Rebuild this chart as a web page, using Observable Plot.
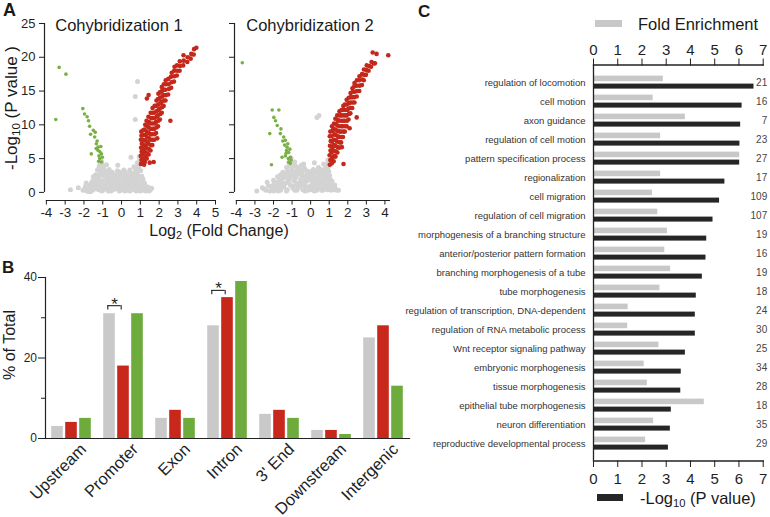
<!DOCTYPE html>
<html><head><meta charset="utf-8">
<script src="https://cdn.jsdelivr.net/npm/d3@7"></script>
<script src="https://cdn.jsdelivr.net/npm/@observablehq/plot@0.6"></script>
<style>
body{margin:0;background:#fff;}
#fig{position:relative;width:770px;height:517px;overflow:hidden;font-family:"Liberation Sans",Arial,sans-serif;color:#1a1a1a;background:#fff;}
.abs{position:absolute;white-space:nowrap;line-height:1;}
.panel{position:absolute;}
.panel svg{overflow:visible;}
sub{font-size:68%;vertical-align:-0.3em;line-height:0;}
</style></head><body><div id="fig"></div>
<script>
// ---------- Panel A: volcano plots ----------
const volcanoYTicks = [0, 5, 10, 15, 20, 25];
const volcanoXTicks1 = [-4, -3, -2, -1, 0, 1, 2, 3, 4, 5];
const volcanoXTicks2 = [-4, -3, -2, -1, 0, 1, 2, 3, 4];

const gray1 = [[-2.72,0.4],[-2.3,0.7],[-2.05,0.3],[-1.92,0.9],[-1.85,0.2],[-1.7,0.6],[-1.62,1.3],[-1.55,0.3],[-1.48,1.9],[-1.42,0.8],[-1.38,2.6],[-1.3,1.4],[-1.28,3.3],[-1.22,0.4],[-1.2,2.1],[-1.17,4.0],[-1.12,1.0],[-1.1,2.8],[-1.08,4.7],[-1.05,3.5],[-1.0,1.7],[-0.98,0.3],[-0.95,2.4],[-0.9,3.1],[-0.86,1.1],[-0.8,4.1],[-0.78,1.9],[-0.74,0.5],[-0.7,2.7],[-0.66,3.4],[-0.62,1.4],[-0.56,0.2],[-0.54,2.2],[-0.5,3.0],[-0.45,1.0],[-0.42,1.8],[-0.36,2.6],[-0.33,0.5],[-0.28,1.4],[-0.22,3.2],[-0.2,2.1],[-0.16,0.9],[-0.1,1.7],[-0.06,0.3],[0.0,2.5],[0.04,1.2],[0.1,0.6],[0.14,2.0],[0.2,3.0],[0.24,1.5],[0.3,0.3],[0.34,2.4],[0.4,1.0],[0.44,3.3],[0.5,1.8],[0.54,0.5],[0.6,2.7],[0.62,1.3],[0.66,3.8],[0.7,2.2],[0.74,0.8],[0.78,3.1],[0.8,1.6],[0.84,4.4],[0.88,2.5],[0.9,0.4],[0.93,3.6],[0.96,1.2],[0.98,4.9],[1.0,2.0],[1.05,0.7],[1.1,1.5],[1.18,0.3],[1.25,1.0],[1.35,0.5],[1.45,0.2],[1.6,0.6],[-1.95,0.5],[-1.75,0.15],[-1.6,0.8],[-1.45,0.5],[-1.35,1.1],[-1.15,0.7],[-0.92,0.8],[-0.7,0.2],[-0.6,0.9],[-0.48,0.4],[-0.38,1.3],[-0.25,0.6],[-0.12,0.2],[0.02,0.8],[0.18,0.2],[0.28,1.1],[0.45,0.2],[0.56,1.0],[0.7,0.4],[0.85,1.1],[1.0,0.2],[1.15,0.9],[1.3,0.2],[-1.25,1.7],[-0.88,1.5],[-0.6,1.9],[0.5,2.4],[0.72,1.8],[1.05,1.1],[-1.4,1.6],[-1.02,2.7],[-0.82,2.4],[-0.3,2.4],[0.1,2.6],[0.36,1.7],[0.92,2.0],[0.85,16.4],[0.73,14.2],[0.73,10.8],[0.5,5.2],[-0.2,4.0],[-1.88,1.4],[-1.78,0.9],[-1.66,0.1],[-1.52,1.2],[-1.33,0.6],[-1.18,1.3],[-1.06,0.2],[-0.96,1.3],[-0.84,0.6],[-0.76,1.4],[-0.64,0.6],[-0.52,1.3],[-0.4,0.8],[-0.3,1.8],[-0.18,1.3],[-0.04,1.5],[0.08,1.0],[0.16,1.6],[0.26,0.7],[0.36,0.4],[0.42,1.4],[0.52,1.2],[0.62,0.8],[0.78,0.2],[0.82,0.9],[0.95,0.7],[1.12,0.5],[1.22,1.4],[1.4,0.8],[1.52,0.3],[-1.5,2.3],[-1.32,2.0],[-1.24,2.5],[-1.14,3.1],[-1.2,3.7],[-1.12,4.3],[-1.0,3.9],[-0.94,3.5],[-0.86,2.9],[-0.72,3.1],[-0.64,2.3],[-0.46,2.5],[-0.4,2.2],[-0.12,2.6],[0.06,2.2],[0.26,2.5],[0.3,1.9],[0.56,2.1],[0.68,2.9],[0.74,3.5],[0.82,2.8],[0.88,3.9],[0.9,3.2],[0.96,4.3],[1.02,3.2],[1.08,2.4],[1.14,2.0],[-1.05,4.4],[0.94,5.3],[-1.56,1.6],[-0.08,3.0],[0.12,3.3],[-0.56,2.8],[0.45,2.9]];
const green1 = [[-3.32,18.5],[-2.96,17.5],[-3.5,10.8],[-2.06,12.4],[-1.97,11.6],[-1.83,11.2],[-1.76,10.6],[-1.7,9.8],[-1.4,8.9],[-1.43,8.2],[-1.34,7.2],[-1.25,6.7],[-1.61,5.7],[-1.07,5.7],[-1.16,5.0],[-1.07,4.5],[-1.25,6.2],[-1.2,5.4],[-1.3,7.6],[-1.15,6.0],[-1.1,6.8],[-1.35,6.5],[-1.02,5.2],[-1.22,4.6],[-1.5,9.2],[-1.65,8.6]];
const red1 = [[1.03,4.2],[1.06,4.8],[1.02,5.4],[1.07,6.0],[1.04,6.6],[1.08,7.2],[1.03,7.8],[1.06,8.4],[1.05,9.0],[1.14,4.3],[1.16,5.0],[1.13,5.7],[1.17,6.4],[1.15,7.1],[1.12,7.8],[1.18,8.5],[1.15,9.2],[1.24,4.5],[1.27,5.3],[1.23,6.1],[1.26,6.9],[1.25,7.7],[1.28,8.5],[1.22,9.3],[1.26,10.0],[1.34,5.0],[1.36,5.8],[1.33,6.6],[1.37,7.4],[1.35,8.2],[1.34,9.0],[1.37,9.8],[1.33,10.6],[1.44,5.6],[1.46,6.4],[1.43,7.2],[1.47,8.0],[1.45,8.8],[1.44,9.6],[1.46,10.4],[1.43,11.2],[1.54,6.2],[1.57,7.0],[1.53,7.8],[1.56,8.6],[1.55,9.4],[1.53,10.2],[1.57,11.0],[1.55,11.8],[1.64,7.0],[1.66,7.8],[1.63,8.6],[1.67,9.4],[1.65,10.2],[1.64,11.0],[1.66,11.8],[1.65,12.5],[1.74,7.8],[1.76,8.6],[1.73,9.4],[1.77,10.2],[1.75,11.0],[1.74,11.8],[1.76,12.8],[1.84,8.8],[1.86,9.6],[1.83,10.4],[1.87,11.2],[1.85,12.0],[1.84,12.8],[1.86,13.6],[1.94,9.8],[1.96,10.6],[1.93,11.4],[1.97,12.2],[1.95,13.0],[1.94,13.8],[1.96,14.6],[2.04,10.8],[2.06,11.6],[2.03,12.4],[2.07,13.2],[2.05,14.0],[2.04,14.8],[2.14,11.8],[2.16,12.6],[2.13,13.4],[2.17,14.2],[2.15,15.0],[2.14,15.6],[2.24,12.8],[2.26,13.6],[2.23,14.4],[2.27,15.2],[2.25,16.0],[2.34,13.6],[2.36,14.4],[2.33,15.2],[2.37,16.0],[2.35,16.6],[2.48,14.5],[2.52,15.3],[2.5,16.0],[2.49,16.8],[2.64,15.5],[2.66,16.3],[2.63,17.1],[2.67,17.7],[2.79,16.4],[2.81,17.2],[2.8,18.0],[2.82,18.6],[2.94,17.3],[2.96,18.0],[2.95,18.8],[3.09,18.0],[3.11,18.7],[3.1,19.4],[3.28,18.8],[3.31,19.5],[3.3,20.3],[3.5,19.3],[3.52,20.0],[3.68,19.8],[3.71,20.5],[3.84,20.4],[3.86,21.2],[3.98,21.4],[1.35,13.9],[1.44,14.4],[2.6,10.6],[1.71,4.5],[1.2,4.1],[1.5,4.4],[1.9,8.0]];

const gray2 = [[-2.6,0.7],[-2.34,1.5],[-2.4,0.3],[-2.15,0.9],[-2.0,0.2],[-1.95,1.6],[-1.85,0.6],[-1.78,2.3],[-1.7,1.1],[-1.62,0.3],[-1.55,1.9],[-1.5,3.0],[-1.45,0.8],[-1.4,2.5],[-1.35,1.4],[-1.3,3.7],[-1.26,0.4],[-1.22,2.0],[-1.18,4.4],[-1.14,3.0],[-1.1,1.1],[-1.06,5.1],[-1.02,2.4],[-0.98,3.8],[-0.95,0.6],[-0.9,1.7],[-0.86,4.5],[-0.82,3.1],[-0.78,2.3],[-0.74,0.3],[-0.7,1.3],[-0.66,3.6],[-0.62,2.7],[-0.58,0.9],[-0.54,1.9],[-0.5,4.0],[-0.46,3.0],[-0.42,0.4],[-0.38,2.3],[-0.34,1.3],[-0.3,3.4],[-0.26,0.8],[-0.22,2.6],[-0.18,1.7],[-0.14,0.3],[-0.1,3.1],[-0.06,2.1],[-0.02,1.0],[0.02,2.8],[0.06,0.5],[0.1,1.6],[0.14,3.4],[0.18,2.2],[0.22,0.9],[0.26,2.9],[0.3,1.4],[0.34,0.3],[0.38,2.4],[0.42,3.7],[0.46,1.1],[0.5,2.0],[0.54,0.6],[0.58,3.1],[0.62,1.6],[0.66,2.6],[0.7,4.2],[0.74,0.9],[0.78,3.4],[0.82,1.9],[0.86,2.9],[0.9,0.4],[0.93,4.8],[0.96,3.8],[0.98,1.4],[1.02,2.5],[1.08,0.8],[1.15,1.7],[1.22,0.4],[1.3,1.1],[1.4,0.3],[-2.2,0.2],[-1.9,1.0],[-1.6,0.7],[-1.3,0.2],[-1.2,1.5],[-0.85,0.3],[-0.6,1.4],[-0.3,0.2],[0.0,0.4],[0.2,0.2],[0.4,0.7],[0.65,0.3],[0.85,1.0],[1.1,0.3],[-1.0,0.9],[-0.45,1.6],[0.05,1.9],[0.45,1.5],[-1.6,1.4],[-1.75,0.2],[0.34,11.1],[0.45,11.4],[-0.38,4.2],[0.2,4.4],[-2.9,0.2],[-2.5,0.5],[-2.28,1.0],[-2.05,0.6],[-1.98,1.2],[-1.82,1.4],[-1.68,1.8],[-1.56,0.9],[-1.48,2.2],[-1.42,1.2],[-1.34,2.8],[-1.28,2.2],[-1.24,3.2],[-1.16,2.6],[-1.12,3.9],[-1.08,4.6],[-1.0,3.3],[-0.94,2.8],[-0.9,4.0],[-0.84,2.0],[-0.76,3.8],[-0.72,2.8],[-0.68,0.7],[-0.56,3.3],[-0.52,1.1],[-0.44,2.4],[-0.36,3.7],[-0.3,1.0],[-0.24,1.9],[-0.16,2.9],[-0.08,0.7],[-0.04,2.4],[0.08,2.6],[0.12,1.2],[0.16,0.6],[0.28,2.0],[0.32,3.2],[0.36,0.9],[0.44,2.7],[0.52,1.3],[0.56,3.4],[0.6,0.3],[0.64,2.1],[0.72,1.4],[0.76,2.6],[0.8,3.9],[0.84,0.6],[0.88,2.4],[0.92,1.6],[0.95,4.3],[0.98,3.1],[1.0,0.9],[1.04,2.0],[1.06,1.4],[1.12,1.0],[1.18,0.5],[1.26,0.9],[1.34,0.5],[1.5,0.3],[-2.0,1.8],[-1.62,2.6],[-1.8,0.3],[-1.15,1.9],[-0.8,1.1],[-0.2,0.6],[0.24,1.5]];
const green2 = [[-3.68,19.2],[-2.07,12.2],[-1.71,12.2],[-1.98,11.1],[-1.89,10.6],[-2.2,8.7],[-1.63,8.7],[-1.45,8.2],[-1.36,7.7],[-1.27,6.7],[-1.18,5.9],[-1.36,5.4],[-1.09,5.2],[-1.18,4.5],[-2.11,4.1],[-1.54,5.2],[-1.23,7.2],[-1.3,6.2],[-1.12,6.4],[-1.05,4.8],[-1.4,7.0],[-1.5,7.6],[-1.2,5.0],[-1.1,4.3],[-1.32,5.8],[-1.6,9.4],[-1.8,9.9]];
const red2 = [[1.03,4.1],[1.06,4.8],[1.02,5.5],[1.07,6.2],[1.04,6.9],[1.08,7.6],[1.03,8.3],[1.06,9.0],[1.14,4.3],[1.16,5.1],[1.13,5.9],[1.17,6.7],[1.15,7.5],[1.12,8.3],[1.18,9.1],[1.15,9.8],[1.24,4.6],[1.27,5.4],[1.23,6.2],[1.26,7.0],[1.25,7.8],[1.28,8.6],[1.22,9.4],[1.26,10.2],[1.34,5.3],[1.36,6.1],[1.33,6.9],[1.37,7.7],[1.35,8.5],[1.34,9.3],[1.37,10.1],[1.33,10.9],[1.44,5.9],[1.46,6.7],[1.43,7.5],[1.47,8.3],[1.45,9.1],[1.44,9.9],[1.46,10.7],[1.43,11.4],[1.54,6.6],[1.57,7.4],[1.53,8.2],[1.56,9.0],[1.55,9.8],[1.53,10.6],[1.57,11.4],[1.55,12.0],[1.64,7.4],[1.66,8.2],[1.63,9.0],[1.67,9.8],[1.65,10.6],[1.64,11.4],[1.66,12.2],[1.74,8.2],[1.76,9.0],[1.73,9.8],[1.77,10.6],[1.75,11.4],[1.74,12.2],[1.76,12.8],[1.84,9.0],[1.86,9.8],[1.83,10.6],[1.87,11.4],[1.85,12.2],[1.84,13.0],[1.94,9.8],[1.96,10.6],[1.93,11.4],[1.97,12.2],[1.95,13.0],[1.94,13.7],[2.04,10.8],[2.06,11.6],[2.03,12.4],[2.07,13.2],[2.05,14.0],[2.14,11.7],[2.16,12.5],[2.13,13.3],[2.17,14.1],[2.15,14.7],[2.24,12.5],[2.26,13.3],[2.23,14.1],[2.27,14.9],[2.25,15.4],[2.36,13.3],[2.34,14.1],[2.37,14.9],[2.35,15.7],[2.36,16.2],[2.48,14.2],[2.5,15.0],[2.47,15.8],[2.49,16.6],[2.62,15.0],[2.64,15.8],[2.61,16.6],[2.63,17.2],[2.76,15.9],[2.78,16.7],[2.77,17.5],[2.86,16.6],[2.88,17.4],[2.87,18.2],[2.98,17.4],[3.0,18.1],[3.02,18.8],[3.12,18.0],[3.15,18.7],[3.25,18.6],[3.28,19.3],[3.4,19.1],[3.34,20.7],[3.55,20.5],[3.46,19.1],[4.18,20.3],[1.68,6.7],[1.77,4.2],[2.48,11.1],[2.1,9.5]];

// ---------- Panel B: genomic distribution (% of total) ----------
const regions = ["Upstream", "Promoter", "Exon", "Intron", "3' End", "Downstream", "Intergenic"];
const pctAll  = [3, 31, 5, 28, 6, 2, 25];
const pctUp   = [4, 18, 7, 35, 7, 2, 28];
const pctDown = [5, 31, 5, 39, 5, 1, 13];
const sigRegions = ["Promoter", "Intron"];
const sigHeights = [33, 36.8];
const pctTicks = [0, 20, 40];
const pctMinorTicks = [10, 30];

// ---------- Panel C: GO enrichment ----------
const goTerms = ["regulation of locomotion","cell motion","axon guidance","regulation of cell motion","pattern specification process","regionalization","cell migration","regulation of cell migration","morphogenesis of a branching structure","anterior/posterior pattern formation","branching morphogenesis of a tube","tube morphogenesis","regulation of transcription, DNA-dependent","regulation of RNA metabolic process","Wnt receptor signaling pathway","embryonic morphogenesis","tissue morphogenesis","epithelial tube morphogenesis","neuron differentiation","reproductive developmental process"];
const foldEnrichment = [2.88,2.46,3.79,2.77,6.03,2.77,2.43,2.65,3.05,2.94,3.18,2.74,1.43,1.41,2.70,2.09,2.22,4.57,2.48,2.15];
const negLog10P = [6.62,6.13,6.07,6.04,6.03,5.42,5.20,4.93,4.67,4.64,4.49,4.24,4.20,4.20,3.79,3.62,3.60,3.21,3.17,3.09];
const geneCounts = [21,16,7,23,27,17,109,107,19,16,19,18,24,30,25,34,28,18,35,29];
const cTicks = [0, 1, 2, 3, 4, 5, 6, 7];

const FONT = '"Liberation Sans", Arial, sans-serif';
const fig = document.getElementById("fig");
function place(node, left, top) {
  const d = document.createElement("div");
  d.className = "panel"; d.style.left = left + "px"; d.style.top = top + "px";
  d.appendChild(node); fig.appendChild(d);
}
function label(html, css) {
  const d = document.createElement("div");
  d.className = "abs"; d.innerHTML = html; Object.assign(d.style, css); fig.appendChild(d);
}
const baseStyle = {fontFamily: FONT, color: "#1f1f1f", background: "transparent", overflow: "visible"};
const xy = {x: d => d[0], y: d => d[1]};

function volcano(gray, green, red, opts) {
  return Plot.plot({
    width: opts.width, height: 225,
    marginLeft: 44, marginRight: opts.marginRight, marginTop: 23, marginBottom: 25,
    x: {domain: opts.xDomain, label: null},
    y: {domain: [-1.2, 25], label: null},
    style: baseStyle,
    marks: [
      Plot.dot(gray, {...xy, r: 2.5, fill: "#d3d3d3"}),
      Plot.dot(green, {...xy, r: 1.8, fill: "#79b043"}),
      Plot.dot(red, {...xy, r: 2.3, fill: "#c4281b"}),
      Plot.ruleX([opts.xDomain[0]], {y1: 0, y2: 25, stroke: "#222", strokeWidth: 1.2}),
      Plot.ruleY([-1.2], {x1: -4, x2: opts.xDomain[1], stroke: "#222", strokeWidth: 1.2}),
      Plot.axisY({ticks: volcanoYTicks, tickSize: 5, tickPadding: 4, fontSize: 13,
        tickFormat: opts.showY ? (d => String(d)) : (() => "")}),
      Plot.axisX({ticks: opts.xTicks, tickSize: 4.5, tickPadding: 2, fontSize: 13.5, tickFormat: d => String(d)})
    ]
  });
}

place(volcano(gray1, green1, red1, {width: 225, marginRight: 10, xDomain: [-4.1, 5], xTicks: volcanoXTicks1, showY: true}), 0, 0);
place(volcano(gray2, green2, red2, {width: 205, marginRight: 5, xDomain: [-4.1, 4.3], xTicks: volcanoXTicks2, showY: false}), 190, 0);

// Panel B
const bRows = regions.map((r, i) => ({region: r, all: pctAll[i], up: pctUp[i], down: pctDown[i]}));
const sig = sigRegions.map((r, i) => ({region: r, h: sigHeights[i]}));
const barOpt = {x: "region", insetLeft: 20.2, insetRight: 20.2};
place(Plot.plot({
  width: 412, height: 257, marginLeft: 45, marginRight: 3, marginTop: 17, marginBottom: 79,
  x: {domain: regions, padding: 0, label: null, axis: null},
  y: {domain: [0, 40], label: null},
  style: baseStyle,
  marks: [
    Plot.barY(bRows, {...barOpt, y: "all", fill: "#c9c9c9", dx: -14}),
    Plot.barY(bRows, {...barOpt, y: "up", fill: "#c8281b"}),
    Plot.barY(bRows, {...barOpt, y: "down", fill: "#6cab3c", dx: 14}),
    Plot.frame({anchor: "left", stroke: "#222", strokeWidth: 1.2}),
    Plot.frame({anchor: "bottom", stroke: "#222", strokeWidth: 1.2}),
    Plot.axisY({ticks: pctTicks, tickSize: 7, tickPadding: 1.5, fontSize: 12, tickFormat: d => String(d)}),
    Plot.axisY({ticks: pctMinorTicks, tickSize: 4, tickFormat: () => ""}),
    Plot.text(regions, {x: d => d, frameAnchor: "bottom", text: d => d, rotate: -45, textAnchor: "end",
      lineAnchor: "middle", dx: 12, dy: 8, fontSize: 16.5, fill: "#1f1f1f"}),
    Plot.tickY(sig, {x: "region", y: "h", insetLeft: 10.3, insetRight: 28.3, stroke: "#222", strokeWidth: 1.1}),
    Plot.ruleX(sig, {x: "region", y1: d => d.h - 1.1, y2: "h", dx: -15.7, stroke: "#222", strokeWidth: 1.1}),
    Plot.ruleX(sig, {x: "region", y1: d => d.h - 1.1, y2: "h", dx: -2.3, stroke: "#222", strokeWidth: 1.1}),
    Plot.text(sig, {x: "region", y: "h", text: () => "*", dx: -9, dy: 4, lineAnchor: "bottom", fontSize: 17})
  ]
}), 0, 260);

// Panel C
const cRows = goTerms.map((t, i) => ({term: t, fold: foldEnrichment[i], logp: negLog10P[i], n: geneCounts[i]}));
place(Plot.plot({
  width: 380, height: 517, marginLeft: 203, marginRight: 7.3, marginTop: 64.5, marginBottom: 56.5,
  x: {domain: [0, 7], label: null},
  y: {domain: goTerms, padding: 0, label: null},
  style: baseStyle,
  marks: [
    Plot.barX(cRows, {x: "fold", y: "term", fill: "#c8c8c8", insetTop: 2.6, insetBottom: 10.8}),
    Plot.barX(cRows, {x: "logp", y: "term", fill: "#262626", insetTop: 10.6, insetBottom: 3.4}),
    Plot.ruleX([0], {stroke: "#222", strokeWidth: 1.3}),
    Plot.frame({anchor: "top", stroke: "#222", strokeWidth: 1.3}),
    Plot.frame({anchor: "bottom", stroke: "#222", strokeWidth: 1.3}),
    Plot.axisX({anchor: "top", ticks: cTicks, tickSize: 7, tickPadding: 3.5, fontSize: 15, tickFormat: d => String(d)}),
    Plot.axisX({anchor: "bottom", ticks: cTicks, tickSize: 6.5, tickPadding: 5.5, fontSize: 15, tickFormat: d => String(d)}),
    Plot.axisY({tickSize: 0, tickPadding: 8, fontSize: 9.5, fill: "#333"}),
    Plot.text(cRows, {y: "term", text: d => String(d.n), frameAnchor: "right", textAnchor: "end", dx: 4, fontSize: 10, fill: "#444"})
  ]
}), 390, 0);

// Panel letters, titles, axis titles, legends
label("A", {left: "3px", top: "1px", fontSize: "18px", fontWeight: "bold"});
label("B", {left: "2px", top: "259px", fontSize: "17px", fontWeight: "bold"});
label("C", {left: "418px", top: "3px", fontSize: "17px", fontWeight: "bold"});
label("Cohybridization 1", {left: "119px", top: "17px", fontSize: "16.5px", transform: "translateX(-50%)"});
label("Cohybridization 2", {left: "310px", top: "17px", fontSize: "16.5px", transform: "translateX(-50%)"});
label("Log<sub>2</sub> (Fold Change)", {left: "219px", top: "223px", fontSize: "16px", transform: "translateX(-50%)"});
label("-Log<sub>10</sub> (P value )", {left: "11px", top: "108px", fontSize: "17px", transform: "translate(-50%,-50%) rotate(-90deg)"});
label("% of Total", {left: "10px", top: "345px", fontSize: "16px", transform: "translate(-50%,-50%) rotate(-90deg)"});
label("", {left: "595px", top: "20px", width: "27px", height: "6.5px", background: "#c8c8c8"});
label("Fold Enrichment", {left: "638px", top: "16px", fontSize: "16.5px"});
label("", {left: "597px", top: "494px", width: "26px", height: "7px", background: "#262626"});
label("-Log<sub>10</sub> (P value)", {left: "640px", top: "490px", fontSize: "16.5px"});
</script></body></html>
